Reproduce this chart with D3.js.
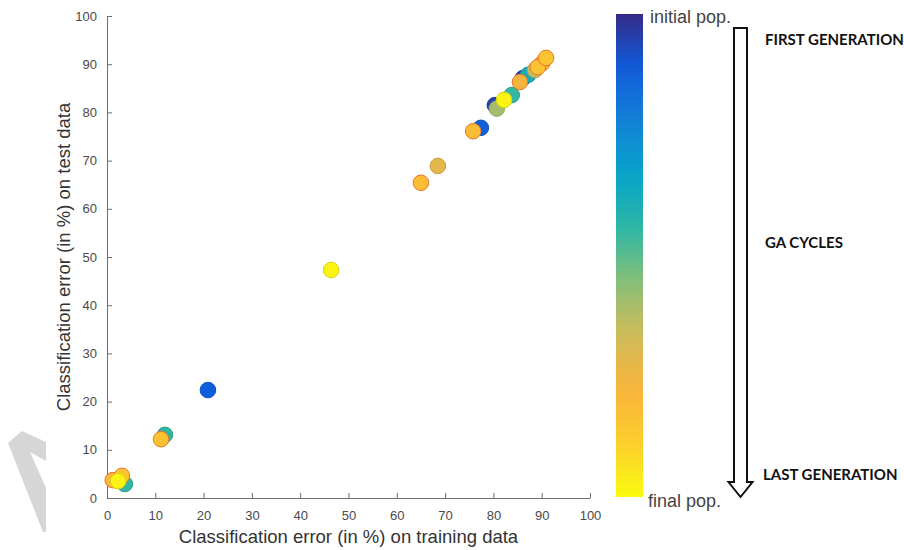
<!DOCTYPE html>
<html>
<head>
<meta charset="utf-8">
<script src="https://cdn.jsdelivr.net/npm/d3@7"></script>
<style>
  body { margin: 0; background: #fff; }
  svg { display: block; }
  .tick text { font-family: "Liberation Sans", Arial, sans-serif; font-size: 13px; fill: #4a4a4a; }
  .axis path, .axis line { stroke: #6e6e6e; }
</style>
</head>
<body>
<div id="figure"></div>
<script>
// data: training error, test error, generation (0 = initial, 1 = final)
const trainErr = [86.1, 80.3, 77.4, 20.9, 87.2, 3.7, 12.0, 83.8, 80.7, 88.6, 68.5, 85.5, 1.2, 90.1, 75.8, 65.0, 11.2, 89.2, 90.9, 3.1, 82.2, 46.4, 2.3];
const testErr  = [87.1, 81.5, 76.8, 22.4, 87.8, 2.9, 13.1, 83.6, 80.8, 88.8, 68.9, 86.3, 3.7, 90.2, 76.1, 65.4, 12.2, 89.4, 91.3, 4.6, 82.6, 47.3, 3.5];
const generation = [0.03, 0.05, 0.12, 0.12, 0.38, 0.45, 0.45, 0.45, 0.6, 0.65, 0.72, 0.76, 0.8, 0.8, 0.82, 0.82, 0.84, 0.84, 0.85, 0.85, 0.98, 0.98, 0.98];

const xTicks = d3.range(0, 101, 10);
const yTicks = d3.range(0, 101, 10);
const arrowLabels = ['FIRST GENERATION', 'GA CYCLES', 'LAST GENERATION'];

// parula-like colormap stops
const parulaStops = ['#352a87', '#0f5cdd', '#1481d6', '#06a4ca', '#2eb7a4', '#87bf77', '#d1bb59', '#f9b33a', '#fcce2e', '#f9fb0e'];

const width = 904, height = 550;
const margin = { left: 107, right: 314, top: 16, bottom: 52 };

const svg = d3.select('#figure').append('svg')
  .attr('width', width)
  .attr('height', height);

const x = d3.scaleLinear().domain([0, 100]).range([margin.left, width - margin.right]);
const y = d3.scaleLinear().domain([0, 100]).range([height - margin.bottom, margin.top]);
const parula = d3.scaleLinear()
  .domain(d3.range(parulaStops.length).map(i => i / (parulaStops.length - 1)))
  .range(parulaStops)
  .interpolate(d3.interpolateRgb);

// watermark fragment
svg.append('polygon')
  .attr('points', '8,443 22,431 46,442 46,461 30,452 46,488 46,532 43,532')
  .attr('fill', '#d6d6d6');

// axes, ticks inward
svg.append('g')
  .attr('class', 'axis')
  .attr('transform', `translate(0,${y(0)})`)
  .call(d3.axisBottom(x).tickValues(xTicks).tickSizeInner(-5).tickSizeOuter(0).tickPadding(10))
  .call(g => g.selectAll('.tick text').attr('dy', '0.9em'));

svg.append('g')
  .attr('class', 'axis')
  .attr('transform', `translate(${x(0)},0)`)
  .call(d3.axisLeft(y).tickValues(yTicks).tickSizeInner(-5).tickSizeOuter(0).tickPadding(10));

svg.selectAll('.axis .domain').attr('stroke', '#6e6e6e');

// axis titles
svg.append('text')
  .attr('x', (x(0) + x(100)) / 2)
  .attr('y', 543)
  .attr('text-anchor', 'middle')
  .style('font-family', '"Liberation Sans", Arial, sans-serif')
  .style('font-size', '18.5px')
  .attr('fill', '#333')
  .text('Classification error (in %) on training data');

svg.append('text')
  .attr('transform', `translate(70,${(y(0) + y(100)) / 2}) rotate(-90)`)
  .attr('text-anchor', 'middle')
  .style('font-family', '"Liberation Sans", Arial, sans-serif')
  .style('font-size', '18.5px')
  .attr('fill', '#333')
  .text('Classification error (in %) on test data');

// points
const pts = trainErr.map((v, i) => ({ tx: v, ty: testErr[i], g: generation[i] }));

svg.append('g')
  .selectAll('circle')
  .data(pts)
  .join('circle')
  .attr('cx', d => x(d.tx))
  .attr('cy', d => y(d.ty))
  .attr('r', 7.8)
  .attr('fill', d => parula(d.g))
  .attr('stroke', d => d.g > 0.75 && d.g < 0.9 ? '#e8762a' : d3.color(parula(d.g)).darker(0.4))
  .attr('stroke-width', 1);

// colorbar
const cbX = 616, cbW = 27, cbTop = 14, cbBottom = 497;
const defs = svg.append('defs');
const grad = defs.append('linearGradient')
  .attr('id', 'cb-grad')
  .attr('x1', 0).attr('y1', 0).attr('x2', 0).attr('y2', 1);
grad.selectAll('stop')
  .data(d3.range(0, 1.0001, 0.05))
  .join('stop')
  .attr('offset', d => d)
  .attr('stop-color', d => parula(d));

svg.append('rect')
  .attr('x', cbX)
  .attr('y', cbTop)
  .attr('width', cbW)
  .attr('height', cbBottom - cbTop)
  .attr('fill', 'url(#cb-grad)');

svg.append('text')
  .attr('x', 650).attr('y', 23)
  .style('font-family', '"Liberation Sans", Arial, sans-serif')
  .style('font-size', '18px')
  .attr('fill', '#444')
  .text('initial pop.');

svg.append('text')
  .attr('x', 648).attr('y', 507)
  .style('font-family', '"Liberation Sans", Arial, sans-serif')
  .style('font-size', '18px')
  .attr('fill', '#444')
  .text('final pop.');

// hollow arrow
const aL = 734, aR = 747, aTop = 28, aHead = 482, aTip = 497, aWing = 12;
const aMid = (aL + aR) / 2;
svg.append('path')
  .attr('d', `M${aL},${aTop} L${aR},${aTop} L${aR},${aHead} L${aMid + aWing},${aHead} L${aMid},${aTip} L${aMid - aWing},${aHead} L${aL},${aHead} Z`)
  .attr('fill', 'none')
  .attr('stroke', '#111')
  .attr('stroke-width', 2);

svg.selectAll('.arrow-label')
  .data(arrowLabels)
  .join('text')
  .attr('class', 'arrow-label')
  .attr('x', (d, i) => i === 2 ? 763 : 765)
  .attr('y', (d, i) => [45, 248, 480][i])
  .style('font-family', 'Lato, "Open Sans", sans-serif')
  .style('font-weight', 'bold')
  .style('font-size', '15px')
  .attr('fill', '#111')
  .text(d => d);
</script>
</body>
</html>
